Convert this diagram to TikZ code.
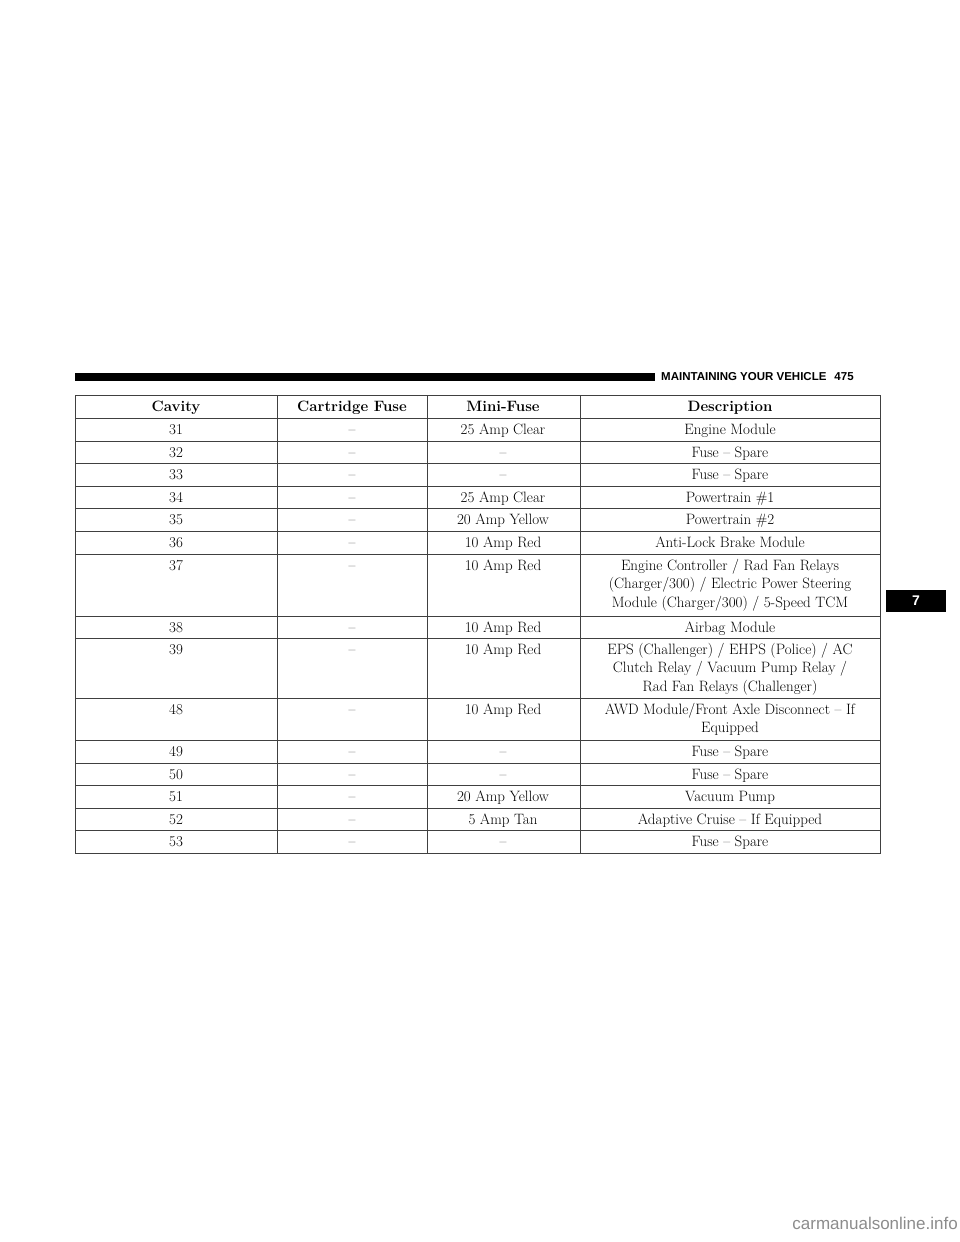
\documentclass[tikz,border=0pt]{standalone}
\usepackage{fontspec}
\newfontfamily\headfont{Liberation Sans}
\tikzset{cell/.style={anchor=north,inner sep=0pt,align=center,font=\fontsize{15}{18.5}\selectfont},
  headcell/.style={cell,font=\fontsize{15}{18.5}\selectfont\bfseries},
  rule/.style={draw=black!75,line width=0.7pt}}
\begin{document}
\begin{tikzpicture}[x=1pt,y=-1pt]
\useasboundingbox[fill=white] (0,0) rectangle (960,1242);
% running head
\fill (75,373) rectangle (655,381);
\node[anchor=west,inner sep=0pt,font=\headfont\bfseries\fontsize{11.5}{12}\selectfont] (head) at (661,377) {MAINTAINING YOUR VEHICLE\hspace{8pt}475};
% section tab
\fill (886,590) rectangle (946,612);
\node[text=white,font=\headfont\bfseries\fontsize{14}{14}\selectfont] (tab) at (916,601) {7};
% table frame
\draw[rule] (75,395) rectangle (880,853);
\foreach \x in {277,427,580} \draw[rule] (\x,395) -- (\x,853);
\foreach \y in {418,441,463,486,508,531,554,616,638,698,740,763,785,808,830}
  \draw[rule] (75,\y) -- (880,\y);
% header
\node[headcell] (hc) at (176,398) {\strut Cavity};
\node[headcell] (hf) at (352,398) {\strut Cartridge Fuse};
\node[headcell] (hm) at (503,398) {\strut Mini-Fuse};
\node[headcell] (hd) at (730,398) {\strut Description};
% rows
\foreach \t/\c/\m/\d [count=\i] in {
  418/31/25 Amp Clear/Engine Module,
  441/32/--/Fuse -- Spare,
  463/33/--/Fuse -- Spare,
  486/34/25 Amp Clear/Powertrain \#1,
  508/35/20 Amp Yellow/Powertrain \#2,
  531/36/10 Amp Red/Anti-Lock Brake Module,
  554/37/10 Amp Red/{Engine Controller / Rad Fan Relays\\\strut(Charger/300) / Electric Power Steering\\\strut Module (Charger/300) / 5-Speed TCM},
  616/38/10 Amp Red/Airbag Module,
  638/39/10 Amp Red/{EPS (Challenger) / EHPS (Police) / AC\\\strut Clutch Relay / Vacuum Pump Relay /\\\strut Rad Fan Relays (Challenger)},
  698/48/10 Amp Red/{AWD Module/Front Axle Disconnect -- If\\\strut Equipped},
  740/49/--/Fuse -- Spare,
  763/50/--/Fuse -- Spare,
  785/51/20 Amp Yellow/Vacuum Pump,
  808/52/5 Amp Tan/Adaptive Cruise -- If Equipped,
  830/53/--/Fuse -- Spare}
{
  \node[cell] (c\i) at (176,\t+3) {\strut\c};
  \node[cell] (f\i) at (352,\t+3) {\strut--};
  \node[cell] (m\i) at (503,\t+3) {\strut\m};
  \node[cell] (d\i) at (730,\t+3) {\strut\d};
}
% watermark
\node[anchor=east,inner sep=0pt,text=black!45,font=\headfont\fontsize{17}{17}\selectfont] (wm) at (958,1223) {carmanualsonline.info};
\end{tikzpicture}
\end{document}
